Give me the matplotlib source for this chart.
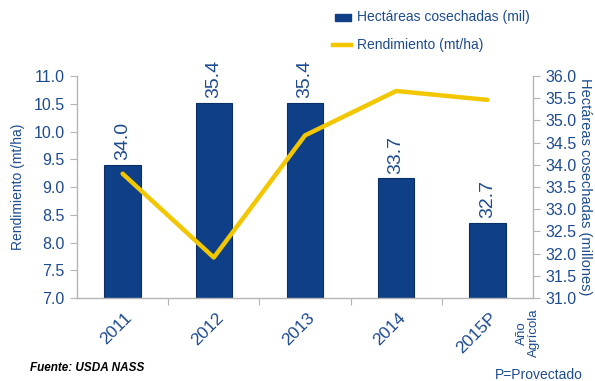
import matplotlib.pyplot as plt
import numpy as np

plt.rcParams["font.family"] = ["Liberation Sans", "DejaVu Sans"]

anos = ["2011", "2012", "2013", "2014", "2015P"]
hectareas = [34.0, 35.4, 35.4, 33.7, 32.7]          # millones de ha
rendimiento = [9.24, 7.73, 9.93, 10.73, 10.57]      # mt/ha

AZUL_TEXTO = "#1d4b8f"
AZUL_BARRA = "#0e3f87"
AMARILLO = "#f2c700"
GRIS = "#b5b5b5"

fig = plt.figure(figsize=(5.95, 3.81), dpi=100)
ax = fig.add_axes([0.1294, 0.2178, 0.7664, 0.5827])
ax2 = ax.twinx()

x = np.arange(len(anos))

# barras de hectareas en el eje derecho
barras = ax2.bar(x, hectareas, width=0.4, color=AZUL_BARRA,
                 edgecolor="#0a2f66", linewidth=0.8, zorder=2)
for xi, v in zip(x, hectareas):
    ax2.text(xi, v + 0.1, f"{v:.1f}", rotation=90, ha="center", va="bottom",
             fontsize=14, color=AZUL_TEXTO)
ax2.set_ylim(31.0, 36.0)
ax2.set_yticks(np.arange(31.0, 36.01, 0.5))
ax2.set_yticklabels([f"{t:.1f}" for t in np.arange(31.0, 36.01, 0.5)])
ax2.set_ylabel("Hectáreas cosechadas (millones)", rotation=-90, labelpad=11,
               fontsize=10.5, color=AZUL_TEXTO)

# linea de rendimiento en el eje izquierdo, por encima de las barras
ax.set_zorder(ax2.get_zorder() + 1)
ax.patch.set_visible(False)
ax.plot(x, rendimiento, color=AMARILLO, linewidth=3.2, solid_capstyle="round",
        zorder=3)
ax.set_ylim(7.0, 11.0)
ax.set_yticks(np.arange(7.0, 11.01, 0.5))
ax.set_yticklabels([f"{t:.1f}" for t in np.arange(7.0, 11.01, 0.5)])
ax.set_ylabel("Rendimiento (mt/ha)", fontsize=10, color=AZUL_TEXTO, labelpad=6)
ax.set_xlim(-0.5, len(anos) - 0.5)

# marcas del eje x entre categorias, etiquetas giradas
ax.set_xticks(np.arange(0.5, len(anos) - 0.5, 1.0))
ax.set_xticklabels([])
ax.tick_params(axis="x", length=5, color=GRIS)
for xi, a in zip(x, anos):
    ax.text(xi + 0.02, 6.78, a, rotation=45, ha="right", va="top",
            fontsize=12.5, color=AZUL_TEXTO, rotation_mode="anchor")

for a in (ax, ax2):
    a.tick_params(axis="y", length=5, color=GRIS, labelsize=11.5,
                  labelcolor=AZUL_TEXTO, pad=4)
    for s in a.spines.values():
        s.set_visible(False)
ax.spines["left"].set_visible(True)
ax.spines["bottom"].set_visible(True)
ax2.spines["right"].set_visible(True)
for s in (ax.spines["left"], ax.spines["bottom"], ax2.spines["right"]):
    s.set_color(GRIS)
    s.set_linewidth(1.0)

# leyenda manual
fig.patches.append(plt.Rectangle((335 / 595, 1 - 21 / 381), 16 / 595, 7 / 381,
                                 transform=fig.transFigure, color=AZUL_BARRA))
fig.text(357 / 595, 1 - 17 / 381, "Hectáreas cosechadas (mil)", fontsize=10,
         color=AZUL_TEXTO, va="center")
fig.lines.append(plt.Line2D([333 / 595, 351 / 595], [1 - 45 / 381, 1 - 45 / 381],
                            transform=fig.transFigure, color=AMARILLO,
                            linewidth=3.2))
fig.text(357 / 595, 1 - 45 / 381, "Rendimiento (mt/ha)", fontsize=10,
         color=AZUL_TEXTO, va="center")

fig.text(528 / 595, 1 - 333 / 381, "Año\nAgrícola", rotation=90, fontsize=9.5,
         color=AZUL_TEXTO, ha="center", va="center", linespacing=0.9)
fig.text(30 / 595, 1 - 368 / 381, "Fuente: USDA NASS", fontsize=8.5,
         fontweight="bold", style="italic", color="black", va="center")
fig.text(495 / 595, 1 - 375 / 381, "P=Provectado", fontsize=10,
         color=AZUL_TEXTO, va="center")

fig.savefig("out.png", dpi=100)
